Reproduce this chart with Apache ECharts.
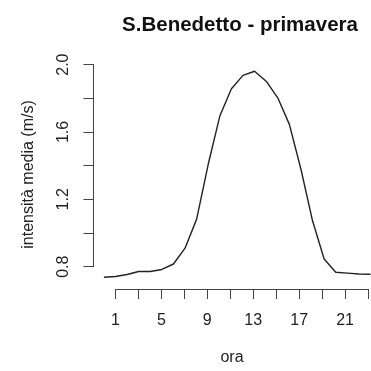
<!DOCTYPE html>
<html>
<head>
<meta charset="utf-8">
<script src="https://cdn.jsdelivr.net/npm/echarts@6/dist/echarts.min.js"></script>
<style>
  html, body { margin: 0; padding: 0; background: #fff; }
  #chart { width: 371px; height: 371px; }
</style>
</head>
<body>
<div id="chart"></div>
<script>
// Hourly mean wind speed, spring, S.Benedetto
const hours = [0, 1, 2, 3, 4, 5, 6, 7, 8, 9, 10, 11, 12, 13, 14, 15, 16, 17, 18, 19, 20, 21, 22, 23];
const speed = [0.72, 0.725, 0.737, 0.755, 0.755, 0.767, 0.80, 0.895, 1.07, 1.40, 1.69, 1.855,
               1.935, 1.96, 1.90, 1.80, 1.64, 1.37, 1.06, 0.83, 0.75, 0.745, 0.74, 0.738];
const yTicks = [0.8, 1.0, 1.2, 1.4, 1.6, 1.8, 2.0];
const yLabelled = [0.8, 1.2, 1.6, 2.0];
const xLabelled = [1, 5, 9, 13, 17, 21];

const titleText = 'S.Benedetto - primavera';
const xName = 'ora';
const yName = 'intensità media (m/s)';

// Layout (pixels)
const W = 371;
const xLeftHour = 1, xRightHour = 23;
const xLeftPx = 115.5, xRightPx = 370.5;
const pxPerHour = (xRightPx - xLeftPx) / (xRightHour - xLeftHour);
const yLowVal = 0.8, yHighVal = 2.0;
const yLowPx = 266.7, yHighPx = 64.6;
const pxPerUnit = (yLowPx - yHighPx) / (yHighVal - yLowVal);

// Plot region: a little wider than the data range
const plotXMin = -0.9, plotXMax = 23;
const plotYMin = 0.6676, plotYMax = 2.0101;
const plotLeft = xLeftPx - (xLeftHour - plotXMin) * pxPerHour;
const plotTop = yLowPx - (plotYMax - yLowVal) * pxPerUnit;
const plotBottom = yLowPx + (yLowVal - plotYMin) * pxPerUnit;

const axisColor = '#444';
const textColor = '#222';
const font = 'Liberation Sans, Arial, Helvetica, sans-serif';

const chart = echarts.init(document.getElementById('chart'), null, { renderer: 'canvas' });

chart.setOption({
  animation: false,
  backgroundColor: '#fff',
  title: {
    text: titleText,
    left: 235,
    top: 10,
    textAlign: 'center',
    textStyle: { fontFamily: font, fontSize: 20.5, fontWeight: 'bold', color: '#111' }
  },
  grid: [
    // data region
    { left: plotLeft, right: W - xRightPx, top: plotTop, height: plotBottom - plotTop },
    // y axis (spans first to last tick)
    { left: plotLeft, width: 10, top: yHighPx, height: yLowPx - yHighPx },
    // x axis (spans first to last tick)
    { left: xLeftPx, right: W - xRightPx, top: plotBottom - 10, height: 10 }
  ],
  xAxis: [
    {
      gridIndex: 0, type: 'value', min: plotXMin, max: plotXMax,
      axisLine: { show: false }, axisTick: { show: false }, axisLabel: { show: false },
      splitLine: { show: false },
      name: xName, nameLocation: 'middle', nameGap: 64,
      nameTextStyle: { fontFamily: font, fontSize: 16, color: textColor }
    },
    { gridIndex: 1, type: 'value', show: false, min: 0, max: 1 },
    {
      gridIndex: 2, type: 'value', position: 'bottom',
      min: xLeftHour, max: xRightHour, interval: 2,
      axisLine: { show: true, onZero: false, lineStyle: { color: axisColor, width: 1 } },
      axisTick: { show: true, inside: false, length: 10, lineStyle: { color: axisColor, width: 1 } },
      axisLabel: {
        show: true, margin: 24, fontFamily: font, fontSize: 16, color: textColor,
        showMinLabel: true, showMaxLabel: true,
        formatter: v => (xLabelled.includes(Math.round(v)) && Math.abs(v - Math.round(v)) < 1e-6 ? String(Math.round(v)) : '')
      },
      splitLine: { show: false }
    }
  ],
  yAxis: [
    {
      gridIndex: 0, type: 'value', min: plotYMin, max: plotYMax,
      axisLine: { show: false }, axisTick: { show: false }, axisLabel: { show: false },
      splitLine: { show: false },
      name: yName, nameLocation: 'middle', nameGap: 57, nameRotate: 90,
      nameTextStyle: { fontFamily: font, fontSize: 16, color: textColor }
    },
    {
      gridIndex: 1, type: 'value', position: 'left',
      min: yTicks[0], max: yTicks[yTicks.length - 1], interval: 0.2,
      axisLine: { show: true, onZero: false, lineStyle: { color: axisColor, width: 1 } },
      axisTick: { show: true, inside: false, length: 10, lineStyle: { color: axisColor, width: 1 } },
      axisLabel: {
        show: true, rotate: 90, margin: 22, fontFamily: font, fontSize: 16, color: textColor,
        showMinLabel: true, showMaxLabel: true,
        formatter: v => (yLabelled.some(t => Math.abs(t - v) < 1e-6) ? v.toFixed(1) : '')
      },
      splitLine: { show: false }
    },
    { gridIndex: 2, type: 'value', show: false, min: 0, max: 1 }
  ],
  series: [
    {
      type: 'line',
      xAxisIndex: 0, yAxisIndex: 0,
      data: hours.map((h, i) => [h, speed[i]]),
      showSymbol: false,
      smooth: false,
      clip: false,
      lineStyle: { color: '#222', width: 1.4 }
    }
  ]
});
</script>
</body>
</html>
